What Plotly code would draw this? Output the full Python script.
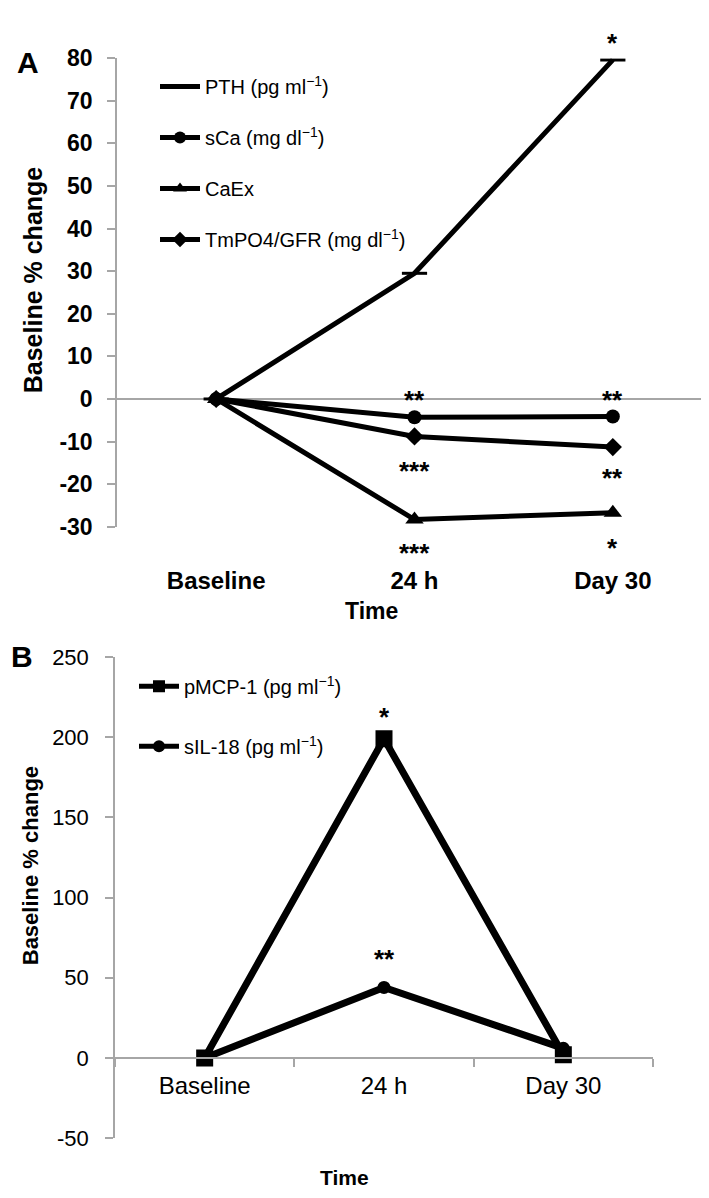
import plotly.graph_objects as go

# Figure size in pixels.
W, H = 709, 1198

# Panel A data (baseline % change).
time_points = ["Baseline", "24 h", "Day 30"]
pth = [0, 29.5, 79.6]
sca = [0, -4.3, -4.1]
caex = [0, -28.3, -26.7]
tmpo4 = [0, -8.8, -11.3]

# Panel B data.
pmcp1 = [0, 199, 2]
sil18 = [0, 44, 6]

# Axis ticks as printed (plain hyphen for negatives).
ticks_a = [-30, -20, -10, 0, 10, 20, 30, 40, 50, 60, 70, 80]
ticklabels_a = ["-30", "-20", "-10", "0", "10", "20", "30", "40", "50", "60", "70", "80"]
ticks_b = [-50, 0, 50, 100, 150, 200, 250]
ticklabels_b = ["-50", "0", "50", "100", "150", "200", "250"]

# Significance labels: (category, y where the stars sit, text).
stars_a = [
    ("24 h", 1.4, "**"), ("24 h", -15.2, "***"), ("24 h", -34.4, "***"),
    ("Day 30", 1.4, "**"), ("Day 30", -17.0, "**"), ("Day 30", -33.4, "*"),
    ("Day 30", 85.3, "*"),
]
stars_b = [("24 h", 217, "*"), ("24 h", 66, "**")]

yrange_a = [-30, 80]
yrange_b = [-50, 250]
xrange_cat = [-0.5, 2.5]

FONT = "Liberation Sans, Arial, sans-serif"
GREY = "#a6a6a6"


def px_x(x):
    return x / W


def px_y(y):
    return 1 - y / H


# Plot area positions (pixels).
a_dom_x = [px_x(109), px_x(704)]
a_dom_y = [px_y(517), px_y(38)]
b_dom_x = [px_x(107), px_x(645)]
b_dom_y = [px_y(1142), px_y(650)]


def to_paper(value, rng, dom):
    # Map a value on an axis to a paper fraction so labels outside the range still show.
    return dom[0] + (value - rng[0]) / (rng[1] - rng[0]) * (dom[1] - dom[0])


fig = go.Figure()

series_a = [
    ("PTH (pg ml<sup>−1</sup>)", pth, dict(symbol="line-ew", size=18, line=dict(width=3, color="black"))),
    ("sCa (mg dl<sup>−1</sup>)", sca, dict(symbol="circle", size=14, color="black")),
    ("CaEx", caex, dict(symbol="triangle-up", size=16, color="black")),
    ("TmPO4/GFR (mg dl<sup>−1</sup>)", tmpo4, dict(symbol="diamond", size=14, color="black")),
]
for name, values, marker in series_a:
    fig.add_trace(go.Scatter(
        x=time_points, y=values, name=name, mode="lines+markers",
        line=dict(color="black", width=5), marker=marker,
        legendgroup=name, legend="legend", xaxis="x", yaxis="y",
    ))

series_b = [
    ("pMCP-1 (pg ml<sup>−1</sup>)", pmcp1, dict(symbol="square", size=17, color="black")),
    ("sIL-18 (pg ml<sup>−1</sup>)", sil18, dict(symbol="circle", size=13, color="black")),
]
for name, values, marker in series_b:
    fig.add_trace(go.Scatter(
        x=time_points, y=values, name=name, mode="lines+markers",
        line=dict(color="black", width=7), marker=marker,
        legendgroup=name, legend="legend2", xaxis="x2", yaxis="y2",
    ))

annotations = []
star_font = dict(family=FONT, size=26, color="black", weight="bold")
for cat, y, txt in stars_a:
    annotations.append(dict(x=cat, xref="x", y=to_paper(y, yrange_a, a_dom_y), yref="paper",
                            yanchor="middle", text=txt, showarrow=False, font=star_font, yshift=-7))
for cat, y, txt in stars_b:
    annotations.append(dict(x=cat, xref="x2", y=to_paper(y, yrange_b, b_dom_y), yref="paper",
                            yanchor="middle", text=txt, showarrow=False, font=star_font, yshift=-7))

# Panel letters, axis titles.
texts = [
    ("<b>A</b>", 20, 42, 30, 0),
    ("<b>B</b>", 14, 650, 30, 0),
    ("<b>Baseline % change</b>", 25, 265, 25, -90),
    ("<b>Baseline % change</b>", 22, 864, 22, -90),
    ("<b>Time</b>", 363, 603, 23, 0),
    ("<b>Time</b>", 336, 1182, 21, 0),
]
for txt, x, y, size, angle in texts:
    annotations.append(dict(x=px_x(x), y=px_y(y), xref="paper", yref="paper", text=txt,
                            showarrow=False, textangle=angle, xanchor="center", yanchor="middle",
                            font=dict(family=FONT, size=size, color="black")))

# x axis of panel B crosses at y = 0.
b_zero = to_paper(0, yrange_b, b_dom_y)

fig.update_layout(
    width=W, height=H, margin=dict(l=0, r=0, t=0, b=0),
    paper_bgcolor="white", plot_bgcolor="white",
    font=dict(family=FONT, color="black"),
    xaxis=dict(domain=a_dom_x, anchor="y", type="category", range=xrange_cat,
               showline=False, showgrid=False, zeroline=False, ticks="",
               tickfont=dict(family=FONT, size=24, color="black", weight="bold"),
               ticklabelstandoff=37),
    yaxis=dict(domain=a_dom_y, anchor="x", range=yrange_a,
               tickvals=ticks_a, ticktext=ticklabels_a,
               showline=True, linecolor=GREY, linewidth=1.5, showgrid=False,
               zeroline=True, zerolinecolor=GREY, zerolinewidth=1.5,
               ticks="outside", ticklen=8, tickcolor=GREY, tickwidth=1.5,
               tickfont=dict(family=FONT, size=23, color="black", weight="bold"),
               ticklabelstandoff=10),
    xaxis2=dict(domain=b_dom_x, anchor="free", position=b_zero, type="category",
                range=xrange_cat, showline=True, linecolor=GREY, linewidth=1.5,
                showgrid=False, zeroline=False, ticks="outside", tickson="boundaries",
                ticklen=8, tickcolor=GREY, tickwidth=1.5,
                tickfont=dict(family=FONT, size=24, color="black"), ticklabelstandoff=6),
    yaxis2=dict(domain=b_dom_y, anchor="x2", range=yrange_b,
                tickvals=ticks_b, ticktext=ticklabels_b,
                showline=True, linecolor=GREY, linewidth=1.5, showgrid=False, zeroline=False,
                ticks="outside", ticklen=8, tickcolor=GREY, tickwidth=1.5,
                tickfont=dict(family=FONT, size=22, color="black"), ticklabelstandoff=12),
    legend=dict(x=px_x(147), y=px_y(47), xanchor="left", yanchor="top",
                font=dict(family=FONT, size=20, color="black"), tracegroupgap=22,
                bgcolor="rgba(0,0,0,0)", itemwidth=40, itemsizing="constant"),
    legend2=dict(x=px_x(126), y=px_y(660), xanchor="left", yanchor="top",
                 font=dict(family=FONT, size=20, color="black"), tracegroupgap=31,
                 bgcolor="rgba(0,0,0,0)", itemwidth=40, itemsizing="constant"),
    annotations=annotations,
    showlegend=True,
)

fig.write_html("out.html")
